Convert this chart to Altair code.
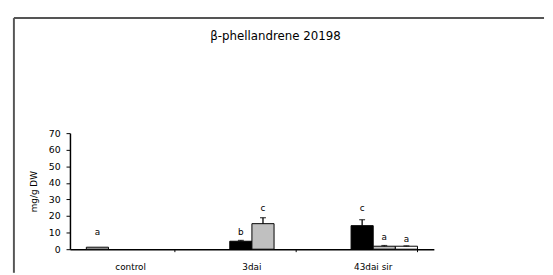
import altair as alt
import pandas as pd

groups = ["control", "3dai", "43dai sir"]
series = ["s1", "s2", "s3", "s4"]
series_fill = ["#c0c0c0", "#000000", "#c0c0c0", "#ffffff"]

bar_group = ["control", "3dai", "3dai", "43dai sir", "43dai sir", "43dai sir"]
bar_series = ["s1", "s2", "s3", "s2", "s3", "s4"]
bar_value = [1.2, 4.8, 15.4, 14.2, 1.8, 1.8]
bar_err = [0.0, 0.5, 3.6, 3.6, 0.4, 0.2]
letters = ["a", "b", "c", "c", "a", "a"]
letter_y = [10.5, 10.1, 24.9, 24.9, 7.3, 5.9]

y_ticks = [0, 10, 20, 30, 40, 50, 60, 70]

df = pd.DataFrame({
    "group": bar_group,
    "series": bar_series,
    "value": bar_value,
    "err": bar_err,
    "letter": letters,
    "ly": letter_y,
})
df["top"] = df["value"] + df["err"]

FONT = "DejaVu Sans"
W, H = 370, 118

x_enc = alt.X("group:N", sort=groups,
              scale=alt.Scale(domain=groups, paddingInner=0.27, paddingOuter=0.135),
              axis=alt.Axis(title=None, labelAngle=0, ticks=False, labelPadding=14,
                            labelFontSize=9, labelFont=FONT, labelColor="#000",
                            domainColor="#000", domainWidth=1.5))
xo = alt.XOffset("series:N", scale=alt.Scale(domain=series, paddingInner=0, paddingOuter=0))
y_scale = alt.Scale(domain=[0, 70], nice=False)

base = alt.Chart(df)

bars = base.mark_bar(stroke="#000", strokeWidth=1).encode(
    x=x_enc,
    xOffset=xo,
    y=alt.Y("value:Q", scale=y_scale,
            axis=alt.Axis(values=y_ticks, tickCount=8, labelOverlap=False,
                          title="mg/g DW", grid=False, tickSize=4,
                          labelPadding=6, labelFontSize=9.5, labelFont=FONT,
                          labelColor="#000", tickColor="#000", domainColor="#000",
                          domainWidth=1.5, titleFont=FONT, titleFontSize=9,
                          titleFontWeight="normal", titleColor="#000", titlePadding=10)),
    fill=alt.Fill("series:N", scale=alt.Scale(domain=series, range=series_fill), legend=None),
)

err_rule = base.transform_filter("datum.err > 0").mark_rule(color="#000", strokeWidth=1.3).encode(
    x=alt.X("group:N", sort=groups), xOffset=xo,
    y=alt.Y("value:Q", scale=y_scale), y2="top:Q",
)
err_cap = base.transform_filter("datum.err > 0").mark_tick(
    color="#000", thickness=1.3, size=6, orient="horizontal").encode(
    x=alt.X("group:N", sort=groups), xOffset=xo,
    y=alt.Y("top:Q", scale=y_scale),
)

txt = base.mark_text(fontSize=9, font=FONT, baseline="middle", color="#000").encode(
    x=alt.X("group:N", sort=groups), xOffset=xo,
    y=alt.Y("ly:Q", scale=y_scale),
    text="letter:N",
)

cat_ticks = alt.Chart(pd.DataFrame({"group": groups})).mark_rule(color="#000", strokeWidth=1).encode(
    x=alt.X("group:N", sort=groups, bandPosition=1),
    y=alt.value(H), y2=alt.value(H + 3),
)

frame_top = alt.Chart(pd.DataFrame({"k": [0]})).mark_rule(color="#555", strokeWidth=2).encode(
    x=alt.value(-57), x2=alt.value(482), y=alt.value(-117),
)
frame_left = alt.Chart(pd.DataFrame({"k": [0]})).mark_rule(color="#555", strokeWidth=2).encode(
    x=alt.value(-57), y=alt.value(-117), y2=alt.value(142),
)

chart = alt.layer(frame_top, frame_left, bars, err_rule, err_cap, txt, cat_ticks).properties(
    width=W, height=H,
    background="#ffffff",
    padding={"left": 5, "top": 7, "right": 0, "bottom": 0},
    title=alt.TitleParams("β-phellandrene 20198", font=FONT, fontSize=12,
                          fontWeight="normal", color="#000", anchor="middle",
                          frame="group", dx=24, offset=-26),
).configure_view(stroke=None)

chart.save("out.html", embed_options={"renderer": "svg", "actions": False})
